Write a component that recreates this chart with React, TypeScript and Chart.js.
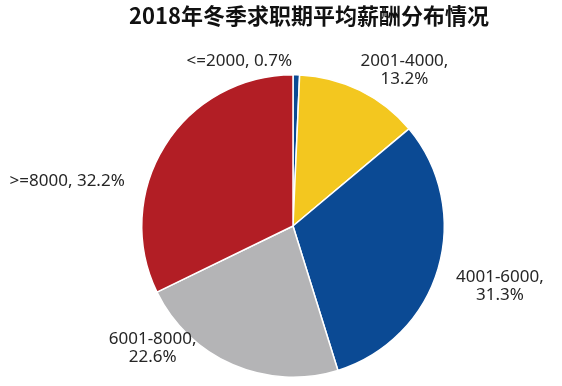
import React, { useEffect, useRef } from "react";
import { Chart, registerables } from "chart.js";

Chart.register(...registerables);

const title = "2018年冬季求职期平均薪酬分布情况";
const categories = ["<=2000", "2001-4000", "4001-6000", "6001-8000", ">=8000"];
const values = [0.7, 13.2, 31.3, 22.6, 32.2];
const colors = ["#0B4A94", "#F3C71F", "#0B4A94", "#B4B4B6", "#B21E25"];
// label lines (as displayed) and label anchor offsets relative to pie center, in units of radius
const labelLines = [
  ["<=2000, 0.7%"],
  ["2001-4000,", "13.2%"],
  ["4001-6000,", "31.3%"],
  ["6001-8000,", "22.6%"],
  [">=8000, 32.2%"],
];
const labelOffsets = [
  [-0.355, -1.092],
  [0.737, -1.033],
  [1.368, 0.401],
  [-0.928, 0.809],
  [-1.493, -0.296],
];

const labelPlugin = {
  id: "pieLabels",
  afterDraw(chart: any) {
    const ctx = chart.ctx;
    const meta = chart.getDatasetMeta(0);
    ctx.save();
    // title
    ctx.font = "bold 22px 'Noto Sans CJK SC', 'Noto Sans', sans-serif";
    ctx.fillStyle = "#111";
    ctx.textAlign = "center";
    ctx.textBaseline = "middle";
    ctx.fillText(title, 309, 16);
    ctx.font = "17px 'Noto Sans', 'Open Sans', sans-serif";
    ctx.fillStyle = "#262626";
    meta.data.forEach((arc: any, i: number) => {
      const { x, y, outerRadius } = arc.getProps(["x", "y", "outerRadius"], true);
      const cx = x + labelOffsets[i][0] * outerRadius;
      const cy = y + labelOffsets[i][1] * outerRadius;
      const lines = labelLines[i];
      const lh = 18;
      lines.forEach((t, j) => {
        ctx.fillText(t, cx, cy + (j - (lines.length - 1) / 2) * lh);
      });
    });
    ctx.restore();
  },
};

export default function App() {
  const ref = useRef<HTMLCanvasElement>(null);
  useEffect(() => {
    document.body.style.margin = "0";
    const chart = new Chart(ref.current!, {
      type: "pie",
      data: {
        labels: categories,
        datasets: [
          {
            data: values,
            backgroundColor: colors,
            borderColor: "#ffffff",
            borderWidth: 1.5,
          },
        ],
      },
      options: {
        responsive: false,
        animation: false,
        layout: { padding: { top: 74, bottom: 8, left: 100, right: 76 } },
        plugins: {
          legend: { display: false },
          title: { display: false },
          tooltip: { enabled: false },
        },
      },
      plugins: [labelPlugin],
    });
    return () => chart.destroy();
  }, []);
  return (
    <div style={{ width: 562, height: 386, background: "#fff" }}>
      <canvas ref={ref} width={562} height={386} />
    </div>
  );
}
